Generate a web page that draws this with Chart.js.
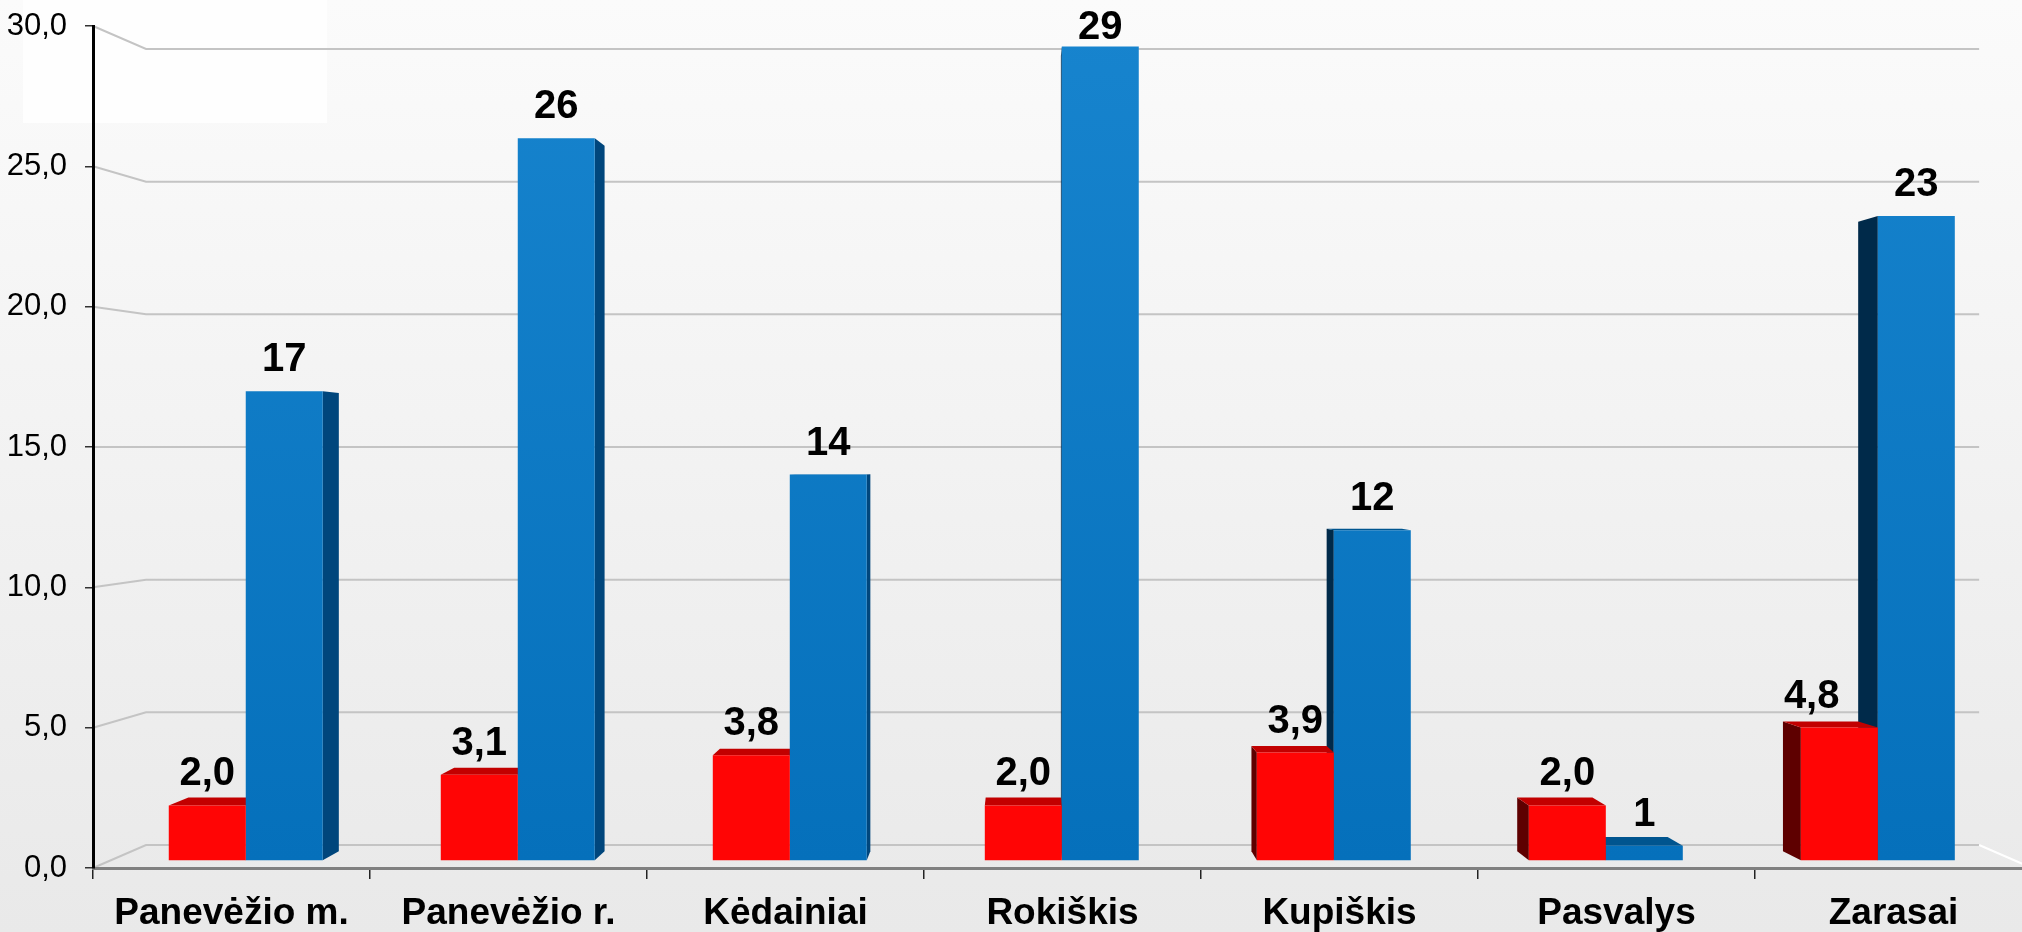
<!DOCTYPE html>
<html><head><meta charset="utf-8">
<script src="https://cdn.jsdelivr.net/npm/chart.js@4.4.0/dist/chart.umd.min.js"></script>
<style>html,body{margin:0;padding:0;overflow:hidden;background:#eee;width:2022px;height:932px}canvas{display:block}</style>
</head><body>
<canvas id="c" width="2040" height="932"></canvas>
<script>
const categories = ['Panevėžio m.', 'Panevėžio r.', 'Kėdainiai', 'Rokiškis', 'Kupiškis', 'Pasvalys', 'Zarasai'];
const redValues = [2.0, 3.1, 3.8, 2.0, 3.9, 2.0, 4.8];
const blueValues = [16.9, 26.0, 13.9, 29.3, 11.9, 0.55, 23.2];
const yMin = 0, yMax = 30, yStep = 5;

const FONT = '"Liberation Sans", Arial, sans-serif';
Chart.defaults.font.family = FONT;

const fmt1 = v => Number(v).toFixed(1).replace('.', ',');
const fmt0 = v => String(Math.round(v));

// perspective helpers (styling only)
const WALL = {x: 1064, y: 447, s: 0.9454};
const BART = {vx: 1023, sx: 0.982, by: 861, sy: 0.9905};
const DEPTH = {vx: 1023, vy: 465, c: 0.023};
const FACE = [
  {top: '#c20000', left: '#5e0000', right: '#8a0000'},
  {top: '#00558f', left: '#002a4a', right: '#00467c'}
];

function barRects(chart) {
  const fy = chart.scales.y.getPixelForValue(0);
  const tx = x => BART.vx + (x - BART.vx) * BART.sx;
  const ty = y => BART.by + (y - fy) * BART.sy;
  const out = [];
  chart.data.datasets.forEach((ds, di) => {
    const meta = chart.getDatasetMeta(di);
    meta.data.forEach((el, i) => {
      const p = el.getProps(['x', 'y', 'base', 'width'], true);
      out.push({di, i, v: ds.data[i], L: tx(p.x - p.width / 2), R: tx(p.x + p.width / 2), T: ty(p.y), B: ty(p.base), cx: tx(p.x)});
    });
  });
  return {out, fy};
}
const back = (x, y) => [x + (DEPTH.vx - x) * DEPTH.c, y + (DEPTH.vy - y) * DEPTH.c];

const plugin3d = {
  id: 'plugin3d',
  beforeDraw(chart) {
    const ctx = chart.ctx, ca = chart.chartArea, W = chart.width, H = chart.height;
    ctx.save();
    const g = ctx.createLinearGradient(0, 0, 0, H);
    g.addColorStop(0, '#fbfbfb');
    g.addColorStop(1, '#e9e9e9');
    ctx.fillStyle = g;
    ctx.fillRect(0, 0, W, H);
    ctx.fillStyle = '#fefefe';
    ctx.fillRect(23, 0, 304, 123);
    // 3D gridlines
    const ys = chart.scales.y;
    ctx.strokeStyle = '#c4c4c4';
    ctx.lineWidth = 2;
    const ex = WALL.x + (ca.right - WALL.x) * WALL.s;
    ys.ticks.forEach(t => {
      const yf = ys.getPixelForValue(t.value);
      const bx = WALL.x + (ca.left - WALL.x) * WALL.s;
      const by = WALL.y + (yf - WALL.y) * WALL.s;
      ctx.beginPath();
      ctx.moveTo(ca.left, yf);
      ctx.lineTo(bx, by);
      ctx.lineTo(ex, by);
      ctx.stroke();
    });
    // floor right edge
    const y0 = ys.getPixelForValue(0);
    const by0 = WALL.y + (y0 - WALL.y) * WALL.s;
    ctx.strokeStyle = '#ffffff';
    ctx.beginPath();
    ctx.moveTo(ex, by0);
    ctx.lineTo(ca.right, y0);
    ctx.stroke();
    ctx.restore();
  },
  beforeDatasetsDraw(chart) {
    const ctx = chart.ctx;
    const {out, fy} = barRects(chart);
    ctx.save();
    // side faces
    out.forEach(b => {
      const f = FACE[b.di];
      if (b.R < DEPTH.vx) {
        const [x1, y1] = back(b.R, b.T), [x2, y2] = back(b.R, b.B);
        ctx.fillStyle = f.right;
        ctx.beginPath(); ctx.moveTo(b.R, b.T); ctx.lineTo(x1, y1); ctx.lineTo(x2, y2); ctx.lineTo(b.R, b.B); ctx.closePath(); ctx.fill();
      }
      if (b.L > DEPTH.vx) {
        const [x1, y1] = back(b.L, b.T), [x2, y2] = back(b.L, b.B);
        ctx.fillStyle = f.left;
        ctx.beginPath(); ctx.moveTo(b.L, b.T); ctx.lineTo(x1, y1); ctx.lineTo(x2, y2); ctx.lineTo(b.L, b.B); ctx.closePath(); ctx.fill();
      }
    });
    // top faces
    out.forEach(b => {
      const f = FACE[b.di];
      if (b.T > DEPTH.vy) {
        const [x1, y1] = back(b.L, b.T), [x2, y2] = back(b.R, b.T);
        ctx.fillStyle = f.top;
        ctx.beginPath(); ctx.moveTo(b.L, b.T); ctx.lineTo(x1, y1); ctx.lineTo(x2, y2); ctx.lineTo(b.R, b.T); ctx.closePath(); ctx.fill();
      }
    });
    ctx.restore();
    ctx.save();
    ctx.transform(BART.sx, 0, 0, BART.sy, BART.vx * (1 - BART.sx), BART.by - fy * BART.sy);
  },
  afterDatasetsDraw(chart) {
    const ctx = chart.ctx;
    ctx.restore();
    const {out} = barRects(chart);
    ctx.save();
    ctx.font = 'bold 40px ' + FONT;
    ctx.textAlign = 'center';
    ctx.textBaseline = 'alphabetic';
    ctx.fillStyle = '#000';
    out.forEach(b => {
      const txt = b.di === 0 ? fmt1(b.v) : fmt0(b.v);
      let cx = b.cx;
      if (b.di === 0) {
        // avoid the visible dark side face of the taller neighbour bar
        const nb = out.find(o => o.di === 1 && o.i === b.i);
        if (nb && nb.L > DEPTH.vx && nb.T < b.T) {
          const sideW = (nb.L - DEPTH.vx) * DEPTH.c;
          if (sideW > 10) cx -= sideW + 8;
        }
      }
      const yb = Math.max(b.T - 20, 39);
      ctx.fillText(txt, cx, yb);
    });
    ctx.restore();
  }
};

new Chart(document.getElementById('c'), {
  type: 'bar',
  data: {
    labels: categories,
    datasets: [
      {data: redValues, backgroundColor: '#ff0505', borderWidth: 0, categoryPercentage: 0.566, barPercentage: 1.0},
      {data: blueValues, borderWidth: 0, categoryPercentage: 0.566, barPercentage: 1.0,
       backgroundColor: (c) => {
         const ca = c.chart.chartArea;
         if (!ca) return '#0a74c0';
         const g = c.chart.ctx.createLinearGradient(0, ca.top, 0, ca.bottom);
         g.addColorStop(0, '#1784ce');
         g.addColorStop(1, '#0570bb');
         return g;
       }}
    ]
  },
  options: {
    responsive: false,
    animation: false,
    layout: {padding: {left: 0, right: 8, top: 26, bottom: 0}},
    plugins: {legend: {display: false}, tooltip: {enabled: false}},
    scales: {
      x: {
        grid: {offset: true, drawOnChartArea: false, drawTicks: true, tickLength: 11, color: '#222', lineWidth: 1.5},
        border: {display: true, color: '#808080', width: 3},
        ticks: {font: {family: FONT, size: 37, weight: 'bold'}, color: '#000', padding: 13, maxRotation: 0, autoSkip: false},
        afterFit(s) { s.height = 64; }
      },
      y: {
        min: yMin, max: yMax,
        ticks: {stepSize: yStep, callback: v => fmt1(v), font: {family: FONT, size: 31, lineHeight: 0.4}, color: '#000', padding: 18},
        grid: {drawOnChartArea: false, drawTicks: true, tickLength: 8, color: '#333', lineWidth: 1.5},
        border: {display: true, color: '#000', width: 3},
        afterFit(s) { s.width = 93; }
      }
    }
  },
  plugins: [plugin3d]
});
</script>
</body></html>
